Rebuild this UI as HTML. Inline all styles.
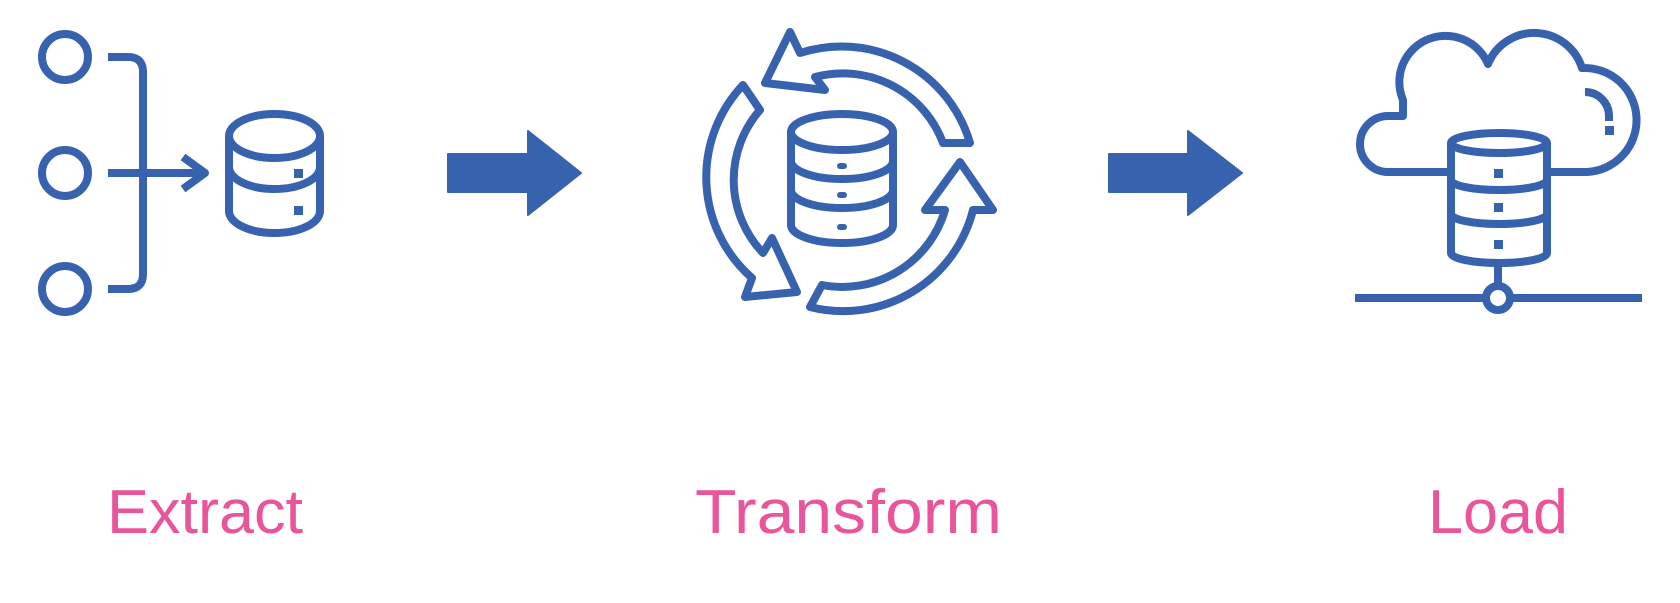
<!DOCTYPE html>
<html><head><meta charset="utf-8"><style>html,body{margin:0;padding:0;background:#fff}svg{display:block}</style></head>
<body>
<svg width="1680" height="603" viewBox="0 0 1680 603" xmlns="http://www.w3.org/2000/svg">
<g fill="none" stroke="#3762ae" stroke-width="8" stroke-linejoin="round">
<!-- Extract -->
<circle cx="65" cy="57" r="23"/>
<circle cx="65" cy="173" r="23"/>
<circle cx="65" cy="289" r="23"/>
<path d="M108 57 H128 Q143 57 143 72 V274 Q143 289 128 289 H108"/>
<path d="M108 173 H206"/>
<path d="M183 157 L205 173 L183 189"/>
<ellipse cx="274.5" cy="136" rx="45.5" ry="22"/>
<path d="M229 136 V211 A45.5 22 0 0 0 320 211 V136"/>
<path d="M229 167 A45.5 22 0 0 0 320 167"/>
<!-- Transform -->
<path d="M800 53 A134 134 0 0 1 970 143 L943 143 A107 107 0 0 0 815 77 L825 90 L765 83 L790 32 Z"/>
<path d="M743 85 A134 134 0 0 0 752 278 L745 297 L797 292 L772 238 L763 253 A106 106 0 0 1 760 110 Z"/>
<path d="M810 307 A134 134 0 0 0 973 210 L993 210 L960 162 L925 210 L945 210 A107 107 0 0 1 822 285 Z"/>
<ellipse cx="842" cy="132" rx="51" ry="18"/>
<path d="M791 132 V225 A51 18 0 0 0 893 225 V132"/>
<path d="M791 161 A51 18 0 0 0 893 161"/>
<path d="M791 190 A51 18 0 0 0 893 190"/>
<!-- Load -->
<path d="M1403 116 H1388 A28 28 0 0 0 1388 172 H1587 A52 52 0 0 0 1582 68 A50 50 0 0 0 1488 64 A46 46 0 0 0 1403 100 Z"/>
<path d="M1585 92 A24 24 0 0 1 1609 116 V121" stroke-linejoin="miter"/>
<path d="M1355 298 H1642"/>
<path d="M1498 263 V286"/>
<path d="M1451 143 V253 A48 10 0 0 0 1547 253 V143" fill="#fff"/>
<ellipse cx="1499" cy="143" rx="48" ry="10" fill="#fff"/>
<path d="M1451 180 A48 10 0 0 0 1547 180"/>
<path d="M1451 214 A48 10 0 0 0 1547 214"/>
<circle cx="1498" cy="298" r="12" fill="#fff"/>
</g>
<g fill="#3762ae">
<rect x="294" y="169" width="9" height="9"/>
<rect x="294" y="206" width="9" height="9"/>
<rect x="837" y="163" width="10" height="6" rx="3"/>
<rect x="837" y="192" width="10" height="6" rx="3"/>
<rect x="837" y="224" width="10" height="6" rx="3"/>
<rect x="1494" y="169" width="9" height="9"/>
<rect x="1494" y="203" width="9" height="9"/>
<rect x="1494" y="240" width="9" height="9"/>
<rect x="1605" y="126" width="9" height="9"/>
<polygon points="448,154 528,154 528,131 581,173 528,215 528,192 448,192" stroke="#3762ae" stroke-width="2" stroke-linejoin="round"/>
<polygon points="1109,154 1188,154 1188,131 1242,173 1188,215 1188,192 1109,192" stroke="#3762ae" stroke-width="2" stroke-linejoin="round"/>
</g>
<g fill="#e9559b" font-family="Liberation Sans, sans-serif" font-size="62">
<text x="107" y="533" textLength="196" lengthAdjust="spacingAndGlyphs">Extract</text>
<text x="695" y="533" textLength="307" lengthAdjust="spacingAndGlyphs">Transform</text>
<text x="1428" y="533" textLength="140" lengthAdjust="spacingAndGlyphs">Load</text>
</g>
</svg>
</body></html>
